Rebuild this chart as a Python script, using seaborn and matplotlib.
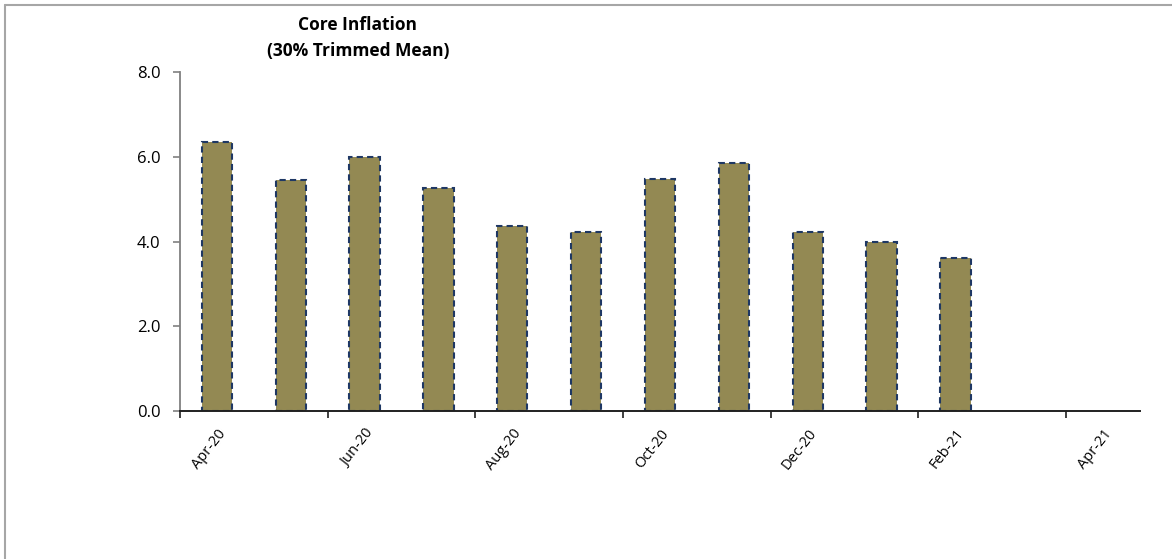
import matplotlib
matplotlib.use("Agg")
import matplotlib.pyplot as plt
import seaborn as sns
import pandas as pd
from matplotlib.lines import Line2D

months = ["Apr-20", "May-20", "Jun-20", "Jul-20", "Aug-20", "Sep-20", "Oct-20",
          "Nov-20", "Dec-20", "Jan-21", "Feb-21", "Mar-21", "Apr-21"]
data_months = ["Apr-20", "May-20", "Jun-20", "Jul-20", "Aug-20", "Sep-20", "Oct-20",
               "Nov-20", "Dec-20", "Jan-21", "Feb-21"]
values = [6.35, 5.45, 6.0, 5.27, 4.37, 4.22, 5.47, 5.85, 4.22, 3.98, 3.60]
yticks = [0.0, 2.0, 4.0, 6.0, 8.0]
title = "Core Inflation\n(30% Trimmed Mean)"

sns.set_style("white")
plt.rcParams["font.family"] = ["Open Sans", "DejaVu Sans"]
plt.rcParams["text.color"] = "black"
plt.rcParams["xtick.labelcolor"] = "black"
plt.rcParams["ytick.labelcolor"] = "black"

df = pd.DataFrame({"month": data_months, "value": values})

fig = plt.figure(figsize=(11.72, 5.59), dpi=100)
ax = fig.add_axes([180 / 1172, 148 / 559, 960 / 1172, 339 / 559])

sns.barplot(data=df, x="month", y="value", order=months, ax=ax,
            color="#938953", saturation=1, width=0.41,
            edgecolor="#1F3864", linewidth=1.5, linestyle=(0, (3, 2)))

ax.set_xlim(-0.5, len(months) - 0.5)
ax.set_ylim(0, 8)
ax.set_yticks(yticks)
ax.set_yticklabels([f"{v:.1f}" for v in yticks], fontsize=12)
ax.tick_params(axis="y", direction="out", length=5, width=1.2, color="#808080",
               left=True, pad=9)

label_pos = list(range(0, len(months), 2))
ax.set_xticks(label_pos)
ax.set_xticklabels([months[i] for i in label_pos], rotation=52, ha="right",
                   rotation_mode="anchor", fontsize=10.5)
ax.tick_params(axis="x", which="major", length=0, pad=11)
ax.set_xticks([i - 0.5 for i in range(0, len(months), 2)], minor=True)
ax.tick_params(axis="x", which="minor", direction="out", length=5, width=1.3,
               color="#303030", bottom=True)
ax.set_xlabel("")
ax.set_ylabel("")

for s in ["top", "right"]:
    ax.spines[s].set_visible(False)
ax.spines["left"].set_color("#808080")
ax.spines["left"].set_linewidth(1.3)
ax.spines["bottom"].set_color("#202020")
ax.spines["bottom"].set_linewidth(1.4)

fig.text(358 / 1172, 1 - 38 / 559, title, ha="center", va="center",
         fontsize=12.5, fontweight="bold", linespacing=1.55)

fig.add_artist(Line2D([5 / 1172, 1], [1 - 5 / 559, 1 - 5 / 559],
                      transform=fig.transFigure, color="#a6a6a6", linewidth=1.5))
fig.add_artist(Line2D([5 / 1172, 5 / 1172], [0, 1 - 5 / 559],
                      transform=fig.transFigure, color="#a6a6a6", linewidth=1.5))

fig.savefig("out.png", dpi=100, facecolor="white")
